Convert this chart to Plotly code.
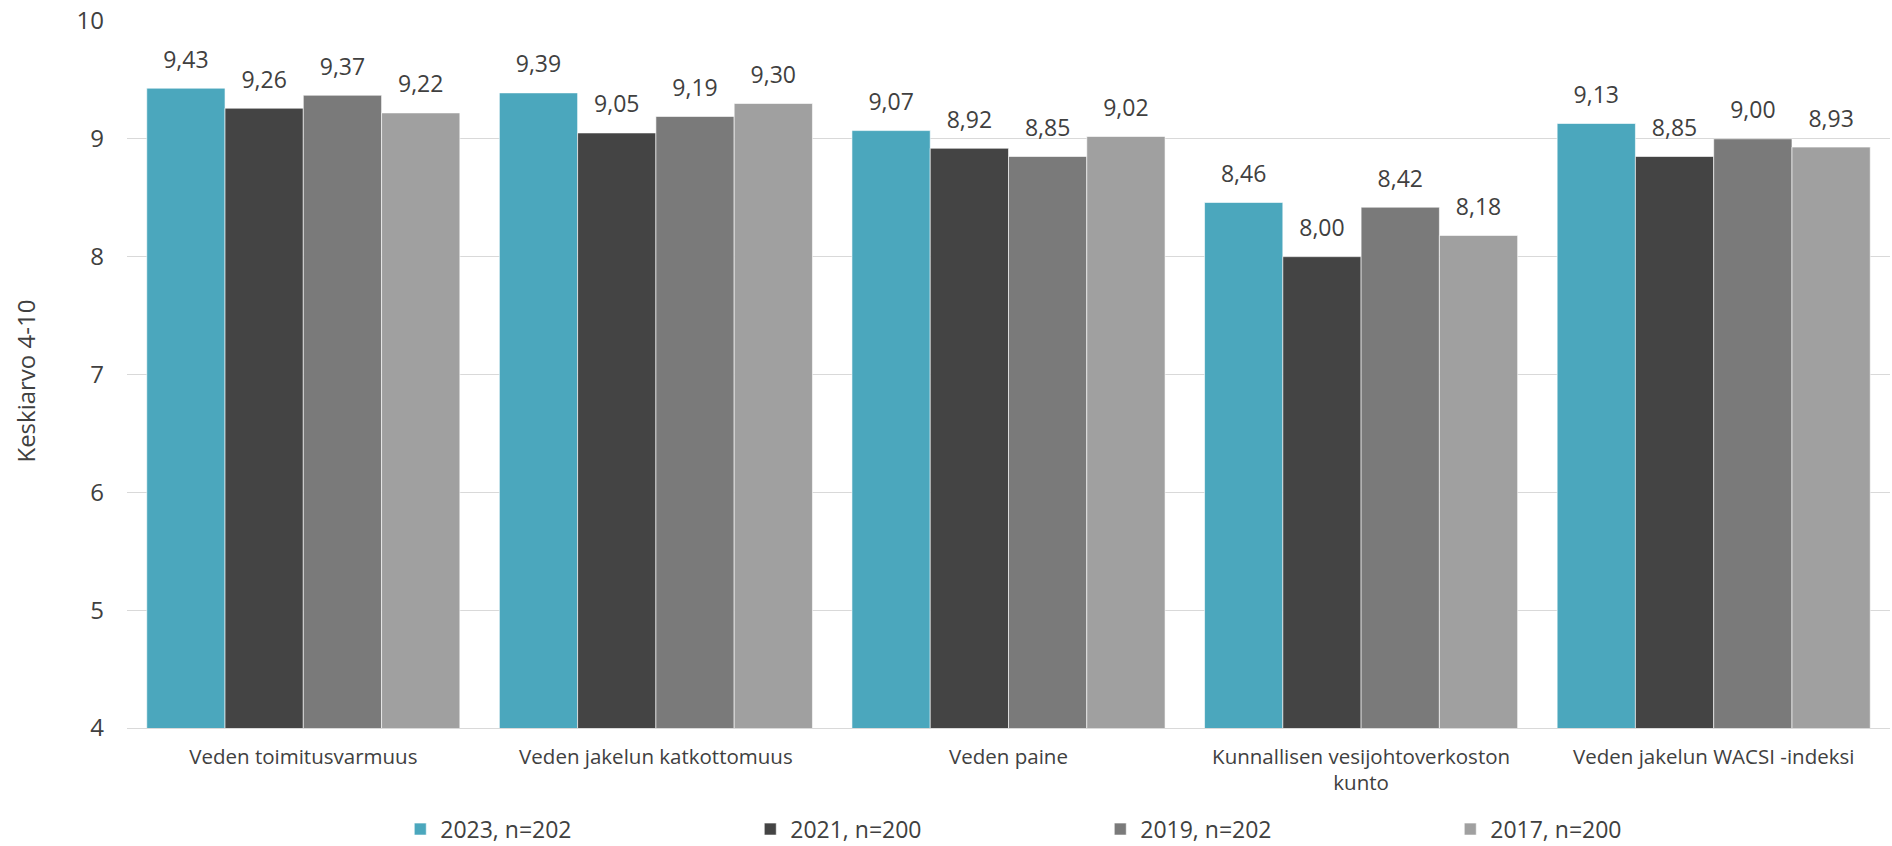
import plotly.graph_objects as go

categories = [
    "Veden toimitusvarmuus",
    "Veden jakelun katkottomuus",
    "Veden paine",
    "Kunnallisen vesijohtoverkoston<br>kunto",
    "Veden jakelun WACSI -indeksi",
]
series_names = ["2023, n=202", "2021, n=200", "2019, n=202", "2017, n=200"]
v2023 = [9.43, 9.39, 9.07, 8.46, 9.13]
v2021 = [9.26, 9.05, 8.92, 8.00, 8.85]
v2019 = [9.37, 9.19, 8.85, 8.42, 9.00]
v2017 = [9.22, 9.30, 9.02, 8.18, 8.93]
y_ticks = [4, 5, 6, 7, 8, 9, 10]

series_values = [v2023, v2021, v2019, v2017]
colors = ["#4BA7BD", "#444444", "#7A7A7A", "#A0A0A0"]
TEXT = "#404040"
FONT = "Open Sans"

fig = go.Figure()
for name, vals, col in zip(series_names, series_values, colors):
    fig.add_trace(go.Bar(
        x=categories, y=vals, name=name, offsetgroup=name,
        marker=dict(color=col, line=dict(color="rgba(255,255,255,0.6)", width=1)),
        hoverinfo="skip",
    ))
for name, vals in zip(series_names, series_values):
    fig.add_trace(go.Scatter(
        x=categories, y=vals, offsetgroup=name, mode="markers+text",
        text=[f"{v:.2f}".replace(".", ",") for v in vals],
        textposition="top center",
        textfont=dict(family=FONT, size=23, color=TEXT),
        marker=dict(size=22, opacity=0),
        showlegend=False, hoverinfo="skip", cliponaxis=False,
    ))

fig.update_layout(
    width=1892, height=846,
    margin=dict(l=127, r=2, t=21, b=118, autoexpand=False),
    paper_bgcolor="white", plot_bgcolor="white",
    barmode="group", bargap=0.112, bargroupgap=0,
    scattermode="group", scattergap=0.112,
    font=dict(family=FONT, color=TEXT),
    legend=dict(
        orientation="h", x=0.155, xanchor="left", y=-0.143, yanchor="middle",
        font=dict(family=FONT, size=23, color=TEXT),
        entrywidth=305, entrywidthmode="pixels",
        itemclick=False, itemdoubleclick=False,
    ),
    annotations=[dict(
        text="Keskiarvo 4-10", textangle=-90, xref="paper", yref="paper",
        x=0, xshift=-101, y=0.49, xanchor="center", yanchor="middle",
        showarrow=False, font=dict(family=FONT, size=24, color=TEXT),
    )],
)
fig.update_yaxes(
    range=[4, 10], tickvals=y_ticks, ticktext=[str(t) for t in y_ticks],
    gridcolor="#D9D9D9", gridwidth=1.3, zeroline=False, automargin=False,
    tickfont=dict(family=FONT, size=24, color=TEXT),
    ticklabelstandoff=22,
)
fig.update_xaxes(
    showline=True, linecolor="#D9D9D9", linewidth=1.3, automargin=False,
    tickfont=dict(family=FONT, size=20.5, color=TEXT),
    ticklabelstandoff=10,
)

fig.write_html(
    "out.html",
    config={"displayModeBar": False},
    post_script="document.body.style.margin='0';document.body.style.overflow='hidden';",
)
